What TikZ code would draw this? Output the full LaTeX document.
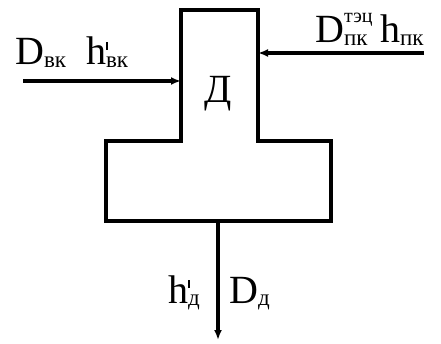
\documentclass[tikz,border=0pt]{standalone}
\usepackage{fontspec}
\setmainfont{Liberation Serif}
\newfontfamily\lbfont{Liberation Serif}
\usetikzlibrary{arrows.meta}
\newcommand\lbsub[1]{\raisebox{-2.5pt}{\fontsize{23}{23}\selectfont #1}}
\newcommand\lbsupr[1]{\makebox[0pt][l]{\raisebox{20pt}{\fontsize{20}{20}\selectfont #1}}}
\newcommand\lbprime{\makebox[0pt][l]{\raisebox{15pt}{\rule{1.8pt}{8pt}}}}
\tikzset{
  wall/.style={line width=3.6pt, line join=miter},
  flow/.style={line width=3.2pt, -{Latex[length=10pt,width=8pt]}},
  lbl/.style={font=\lbfont\fontsize{40}{40}\selectfont, inner sep=0pt, anchor=base west}
}
\begin{document}
\begin{tikzpicture}[x=1pt,y=-1pt]
\useasboundingbox (0,0) rectangle (441,344);
% T-shaped body
\coordinate (c1) at (181,10);
\coordinate (c2) at (258,10);
\coordinate (c3) at (258,141);
\coordinate (c4) at (331,141);
\coordinate (c5) at (331,221);
\coordinate (c6) at (106,221);
\coordinate (c7) at (106,141);
\coordinate (c8) at (181,141);
\draw[wall] (c1) -- (c2) -- (c3) -- (c4) -- (c5) -- (c6) -- (c7) -- (c8) -- cycle;
\node[font=\lbfont\fontsize{40}{40}\selectfont, inner sep=0pt] (d) at (218,94) {Д};
% inlet left
\coordinate (inL) at (23,81);
\coordinate (tgL) at (181,81);
\draw[flow] (inL) -- (tgL);
% inlet right
\coordinate (inR) at (424,53);
\coordinate (tgR) at (258,53);
\draw[flow] (inR) -- (tgR);
% outlet
\coordinate (outS) at (218,221);
\coordinate (outE) at (218,340);
\draw[flow] (outS) -- (outE);
% labels
\node[lbl] (lL) at (15,65) {D\lbsub{вк}\hspace{20pt}h\lbprime\lbsub{вк}};
\node[lbl] (lR) at (315,43) {D\lbsupr{тэц}\makebox[36pt][l]{\lbsub{пк}}h\lbsub{пк}};
\node[lbl] (lB1) at (168,303) {h\lbprime\lbsub{д}};
\node[lbl] (lB2) at (229,303) {D\lbsub{д}};
\end{tikzpicture}
\end{document}
